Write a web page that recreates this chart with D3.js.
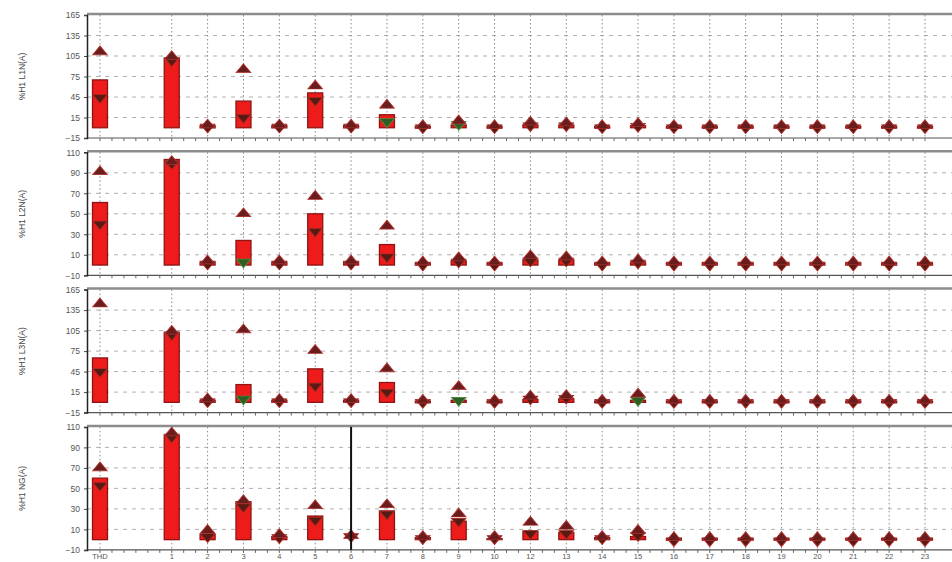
<!DOCTYPE html>
<html>
<head>
<meta charset="utf-8">
<script src="https://cdn.jsdelivr.net/npm/d3@7"></script>
<style>
  body { margin: 0; background: #fff; }
  svg { display: block; }
  text { font-family: "Liberation Sans", Arial, sans-serif; }
</style>
</head>
<body>
<figure style="margin:0"></figure>
<script>
// harmonic orders shown on the x axis (no 11 in the source), with an empty slot after THD
const categories = ["THD","1","2","3","4","5","6","7","8","9","10","12","13","14","15","16","17","18","19","20","21","22","23"]
const slotDomain = ["THD", " ", ...categories.slice(1)]

const panelLabels = ["%H1 L1N(A)", "%H1 L2N(A)", "%H1 L3N(A)", "%H1 NG(A)"]
const ticksA = [-15, 15, 45, 75, 105, 135, 165]
const ticksB = [-10, 10, 30, 50, 70, 90, 110]
const panelTicks = [ticksA, ticksB, ticksA, ticksB]

// bar = red column, max = up triangle, avg = down triangle
const barL1 = [70,102,3,39,3,51,3,19,2,4,2,4,4,2,3,2,2,2,2,2,2,2,2]
const maxL1 = [111,104,4,85,4,61,4,33,3,10,3,8,7,3,6,3,3,3,3,3,3,3,3]
const avgL1 = [44,98,1,15,1,40,1,9,0,5,0,3,3,0,2,0,0,0,0,0,0,0,0]

const barL2 = [61,103,3,24,3,50,3,20,2,4,2,5,5,2,3,2,2,2,2,2,2,2,2]
const maxL2 = [91,101,4,50,4,67,4,38,3,7,3,9,8,3,5,3,3,3,3,3,3,3,3]
const avgL2 = [40,99,1,3,1,33,1,8,0,3,0,4,4,0,2,0,0,0,0,0,0,0,0]

const barL3 = [65,102,3,26,3,49,3,29,2,3,2,4,5,2,3,2,2,2,2,2,2,2,2]
const maxL3 = [144,104,5,106,4,76,4,49,3,23,3,9,10,3,12,3,3,3,3,3,3,3,3]
const avgL3 = [45,99,1,5,1,24,1,15,0,3,0,5,6,0,3,0,0,0,0,0,0,0,0]

const barNG = [60,102,5,37,3,23,0,28,2,18,1,8,7,2,3,1,1,1,1,1,1,1,1]
const maxNG = [70,104,9,38,5,33,4,34,3,25,3,17,13,3,9,2,2,2,2,2,2,2,2]
const avgNG = [53,100,3,32,2,19,3,25,1,18,1,6,6,1,4,-1,-1,-1,-1,-1,-1,-1,-1]

// categories whose average marker is drawn green in the source
const greenAvg = [["7","9"], ["3"], ["3","9","15"], []]
const cursorPanel = 3, cursorAt = "6"

const panelBars = [barL1, barL2, barL3, barNG]
const panelMax = [maxL1, maxL2, maxL3, maxNG]
const panelAvg = [avgL1, avgL2, avgL3, avgNG]

const svg = d3.select("figure").append("svg").attr("width", 952).attr("height", 562),
    left = 87, right = 965,
    panelH = 123, panelGap = 137.3, firstTop = 15,
    x = d3.scalePoint().domain(slotDomain).range([100, 925]),
    xIdx = d3.scaleLinear().domain([0, slotDomain.length - 1]).range(x.range()),
    barW = 15

const tri = d3.symbol().type(d3.symbolTriangle).size(55)

panelLabels.forEach((label, p) => {
    const top = firstTop + p * panelGap,
        ticks = panelTicks[p],
        y = d3.scaleLinear().domain(d3.extent(ticks)).range([top + panelH, top]),
        g = svg.append("g")

    // horizontal dashed grid
    g.selectAll("line.hgrid").data(ticks.slice(1, -1)).enter().append("line")
        .attr("x1", left).attr("x2", right)
        .attr("y1", d => y(d)).attr("y2", d => y(d))
        .attr("stroke", "#b0b0b0").attr("stroke-dasharray", "4,5")

    // vertical dotted grid
    g.selectAll("line.vgrid").data(categories).enter().append("line")
        .attr("x1", d => x(d)).attr("x2", d => x(d))
        .attr("y1", top).attr("y2", top + panelH)
        .attr("stroke", "#8a8a8a").attr("stroke-dasharray", "1.5,2.5")

    // frame
    g.append("line").attr("x1", left).attr("x2", right).attr("y1", top - 1).attr("y2", top - 1)
        .attr("stroke", "#8c8c8c").attr("stroke-width", 2.5)
    g.append("line").attr("x1", left).attr("x2", right).attr("y1", top + panelH).attr("y2", top + panelH)
        .attr("stroke", "#555").attr("stroke-width", 1.2)
    g.selectAll("line.minor").data(d3.range(0, slotDomain.length - 1 + 1e-6, 1 / 3)).enter().append("line")
        .attr("x1", d => xIdx(d)).attr("x2", d => xIdx(d))
        .attr("y1", top + panelH).attr("y2", top + panelH + 3)
        .attr("stroke", "#666")

    // left axis
    const yAxis = g.append("g").attr("transform", `translate(${left},0)`)
        .call(d3.axisLeft(y).tickValues(ticks).tickSize(3).tickPadding(4))
    yAxis.select(".domain").attr("stroke", "#222").attr("stroke-width", 1.5)
    yAxis.selectAll("text").attr("fill", "#555").style("font-size", "8.5px")
    yAxis.selectAll(".tick line").attr("stroke", "#444")

    g.append("text")
        .text(label)
        .attr("transform", `translate(25,${top + panelH / 2}) rotate(-90)`)
        .attr("text-anchor", "middle")
        .attr("fill", "#444")
        .style("font-size", "8.5px")

    const rows = categories.map((c, i) => ({cat: c, bar: panelBars[p][i], max: panelMax[p][i], avg: panelAvg[p][i]}))

    // red columns from zero
    g.selectAll("rect.bar").data(rows).enter().append("rect")
        .attr("x", d => x(d.cat) - barW / 2)
        .attr("width", barW)
        .attr("y", d => y(Math.max(d.bar, 0)))
        .attr("height", d => Math.abs(y(0) - y(d.bar)))
        .attr("fill", "#ee1b1b")
        .attr("stroke", "#8e1414").attr("stroke-width", 1.3)

    // average (down triangle)
    g.selectAll("path.avg").data(rows).enter().append("path")
        .attr("d", tri)
        .attr("transform", d => `translate(${x(d.cat)},${y(d.avg)}) rotate(180) scale(1.3,0.9)`)
        .attr("fill", d => greenAvg[p].includes(d.cat) ? "#2f5e25" : "#5a1a14")
        .attr("stroke", d => greenAvg[p].includes(d.cat) ? "#4f8a3c" : "#b02a22")
        .attr("stroke-width", 0.8)

    // maximum (up triangle)
    g.selectAll("path.max").data(rows).enter().append("path")
        .attr("d", tri)
        .attr("transform", d => `translate(${x(d.cat)},${y(d.max)}) scale(1.3,0.9)`)
        .attr("fill", "#6a1d1d")
        .attr("stroke", "#b03030").attr("stroke-width", 0.8)

    if (p === cursorPanel) {
        g.append("line")
            .attr("x1", x(cursorAt)).attr("x2", x(cursorAt))
            .attr("y1", top).attr("y2", top + panelH)
            .attr("stroke", "#111").attr("stroke-width", 2)
    }

    if (p === panelLabels.length - 1) {
        g.selectAll("text.xlab").data(categories).enter().append("text")
            .text(d => d)
            .attr("x", d => x(d))
            .attr("y", top + panelH + 9)
            .attr("text-anchor", "middle")
            .attr("fill", "#555")
            .style("font-size", "7.5px")
    }
})
</script>
</body>
</html>
